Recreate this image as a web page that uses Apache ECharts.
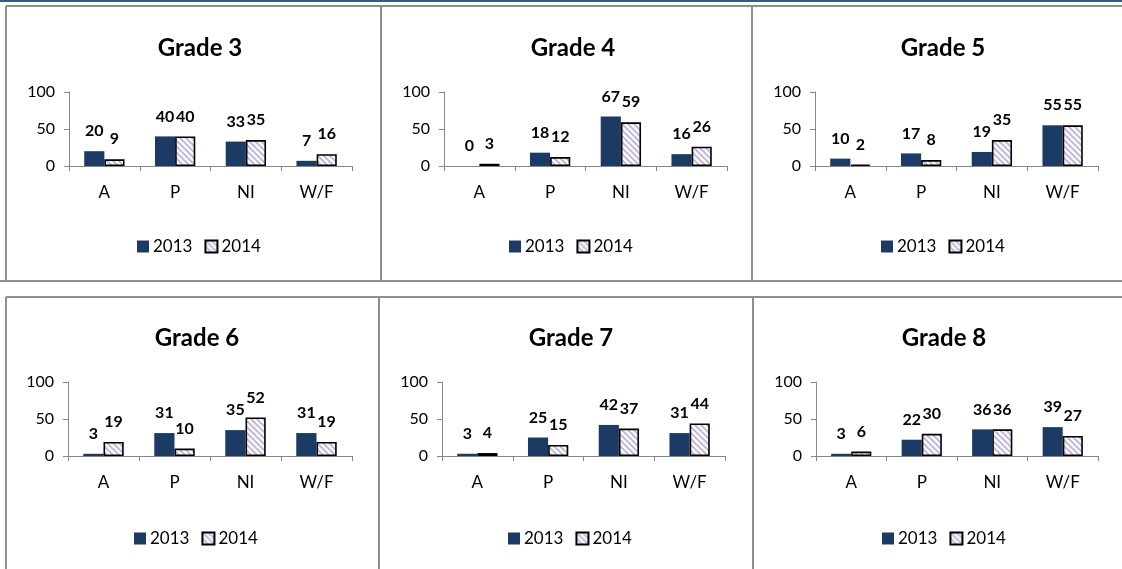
<!DOCTYPE html>
<html><head><meta charset="utf-8">
<script src="https://cdn.jsdelivr.net/npm/echarts@6/dist/echarts.min.js"></script>
<style>html,body{margin:0;padding:0;background:#fff}#c{width:1122px;height:569px}</style>
</head><body><div id="c"></div>
<script>
// ---- data ----
const categories = ['A', 'P', 'NI', 'W/F'];
const seriesNames = ['2013', '2014'];
const gradeTitles = ['Grade 3', 'Grade 4', 'Grade 5', 'Grade 6', 'Grade 7', 'Grade 8'];
const yMin = 0, yMax = 100, yStep = 50;
const grade3_2013 = [20, 40, 33, 7];
const grade3_2014 = [9, 40, 35, 16];
const grade4_2013 = [0, 18, 67, 16];
const grade4_2014 = [3, 12, 59, 26];
const grade5_2013 = [10, 17, 19, 55];
const grade5_2014 = [2, 8, 35, 55];
const grade6_2013 = [3, 31, 35, 31];
const grade6_2014 = [19, 10, 52, 19];
const grade7_2013 = [3, 25, 42, 31];
const grade7_2014 = [4, 15, 37, 44];
const grade8_2013 = [3, 22, 36, 39];
const grade8_2014 = [6, 30, 36, 27];
const gradeData = [
  [grade3_2013, grade3_2014], [grade4_2013, grade4_2014], [grade5_2013, grade5_2014],
  [grade6_2013, grade6_2014], [grade7_2013, grade7_2014], [grade8_2013, grade8_2014]
];

// ---- layout ----
const FONT = 'Lato, "Open Sans", sans-serif';
const layout = [
  {ax: 69,  r: 352,  top: 92,  tx: 195, ty: 31,  lx: 199, ly: 233},
  {ax: 444, r: 727,  top: 92,  tx: 568, ty: 31,  lx: 571, ly: 233},
  {ax: 815, r: 1098, top: 92,  tx: 938, ty: 31,  lx: 943, ly: 233},
  {ax: 68,  r: 352,  top: 382, tx: 192, ty: 321, lx: 196, ly: 525},
  {ax: 442, r: 725,  top: 382, tx: 566, ty: 321, lx: 570, ly: 525},
  {ax: 816, r: 1098, top: 382, tx: 939, ty: 321, lx: 944, ly: 525}
];

function stripePattern() {
  const c = document.createElement('canvas');
  c.width = 6; c.height = 6;
  const x = c.getContext('2d');
  x.fillStyle = '#ffffff'; x.fillRect(0, 0, 6, 6);
  x.strokeStyle = '#C6BBDC'; x.lineWidth = 2.2;
  x.beginPath();
  x.moveTo(-1, -1); x.lineTo(7, 7);
  x.moveTo(-1, 5); x.lineTo(1, 7);
  x.moveTo(5, -1); x.lineTo(7, 1);
  x.stroke();
  return c;
}
const pattern = {image: stripePattern(), repeat: 'repeat'};
const navy = '#1B3A64';

const option = {
  animation: false,
  backgroundColor: '#fff',
  title: [], legend: [], grid: [], xAxis: [], yAxis: [], series: [],
  graphic: []
};

layout.forEach((p, i) => {
  option.title.push({
    text: gradeTitles[i], left: p.tx, top: p.ty, textAlign: 'center',
    textStyle: {fontFamily: FONT, fontWeight: 'bold', fontSize: 24, color: '#000'}
  });
  option.grid.push({left: p.ax, top: p.top, width: p.r - p.ax, height: 74});
  option.xAxis.push({
    type: 'category', gridIndex: i, data: categories,
    axisLine: {show: true, lineStyle: {color: '#868686', width: 1}},
    axisTick: {show: true, length: 5, lineStyle: {color: '#868686'}},
    axisLabel: {fontFamily: FONT, fontSize: 17, color: '#000', margin: 18},
    splitLine: {show: false}
  });
  option.yAxis.push({
    type: 'value', gridIndex: i, min: yMin, max: yMax, interval: yStep,
    axisLine: {show: true, lineStyle: {color: '#868686', width: 1}},
    axisTick: {show: true, length: 5, lineStyle: {color: '#868686'}},
    axisLabel: {fontFamily: FONT, fontSize: 16, color: '#000', margin: 14},
    splitLine: {show: false}
  });
  const lbl = {show: true, position: 'top', distance: 12, fontFamily: FONT,
               fontWeight: 'bold', fontSize: 16, color: '#000'};
  option.series.push({
    type: 'bar', name: seriesNames[0], xAxisIndex: i, yAxisIndex: i,
    data: gradeData[i][0], barGap: '0%', barCategoryGap: '43%',
    itemStyle: {color: navy}, label: lbl
  });
  option.series.push({
    type: 'bar', name: seriesNames[1], xAxisIndex: i, yAxisIndex: i,
    data: gradeData[i][1], barGap: '0%', barCategoryGap: '43%',
    itemStyle: {color: pattern, borderColor: '#000', borderWidth: 1.6}, label: lbl
  });
  option.legend.push({
    left: p.lx - 67, top: p.ly, itemWidth: 12, itemHeight: 12, itemGap: 12,
    icon: 'rect', selectedMode: false,
    data: seriesNames,
    textStyle: {fontFamily: FONT, fontSize: 17, color: '#000', padding: [0, 0, 0, -1]}
  });
});

// panel borders
const G = '#8E8E8E';
function line(x1, y1, x2, y2, color, w) {
  return {type: 'line', shape: {x1, y1, x2, y2}, style: {stroke: color, lineWidth: w}, silent: true};
}
option.graphic = [
  line(0, 1, 1122, 1, '#2F5C8F', 2),
  line(6, 6, 1122, 6, G, 2),
  line(6, 6, 6, 281, G, 2),
  line(381, 6, 381, 281, G, 2),
  line(752, 6, 752, 281, G, 2),
  line(0, 281, 1122, 281, G, 2),
  line(6, 297, 1122, 297, G, 2),
  line(6, 297, 6, 569, G, 2),
  line(379, 297, 379, 569, G, 2),
  line(753, 297, 753, 569, G, 2)
];

const chart = echarts.init(document.getElementById('c'));
chart.setOption(option);
</script>
</body></html>
